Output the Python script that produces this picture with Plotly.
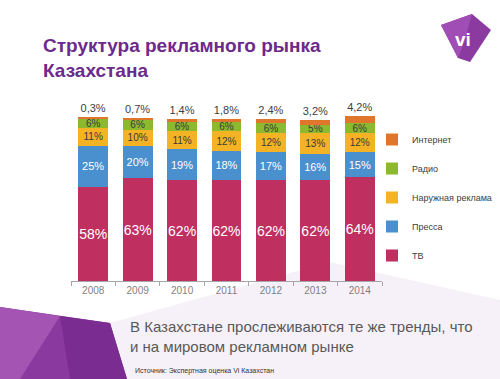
import plotly.graph_objects as go

years = ["2008", "2009", "2010", "2011", "2012", "2013", "2014"]
tv = [58, 63, 62, 62, 62, 62, 64]
press = [25, 20, 19, 18, 17, 16, 15]
outdoor = [11, 10, 11, 12, 12, 13, 12]
radio = [6, 6, 6, 6, 6, 5, 6]
internet = [0.3, 0.7, 1.4, 1.8, 2.4, 3.2, 4.2]

names = ["ТВ", "Пресса", "Наружная реклама", "Радио", "Интернет"]
colors = ["#BF2F60", "#4A90CF", "#F4B324", "#8DB92E", "#E0762B"]

W, H = 500, 379
L, R, T, B = 71, 118, 102, 98
PW, PH = W - L - R, H - T - B


def px(x):
    return (x - L) / PW


def py(y):
    return (H - B - y) / PH


def fmt(v):
    if float(v).is_integer():
        return f"{int(v)}%"
    return f"{v:.1f}".replace(".", ",") + "%"


fig = go.Figure()
series = [tv, press, outdoor, radio, internet]
font_specs = [
    dict(size=14, color="white"),
    dict(size=11, color="white"),
    dict(size=10, color="#3a3a3a"),
    dict(size=10, color="#3a3a3a"),
    dict(size=11, color="#404040"),
]
for i, (nm, vals, col) in enumerate(zip(names, series, colors)):
    fig.add_bar(
        x=years, y=vals, name=nm, marker=dict(color=col, line=dict(width=0)),
        text=[fmt(v) for v in vals],
        textposition="outside" if i == 4 else "inside",
        insidetextanchor="middle",
        textangle=0,
        constraintext="none",
        textfont=dict(family="Liberation Sans", **font_specs[i]),
        cliponaxis=False,
        legendgroup=nm,
        legendrank=5 - i,
        hoverinfo="skip",
    )

shapes = []
# pale background fan
shapes.append(dict(type="path", xref="paper", yref="paper",
                   path=f"M {px(110)},{py(323)} L {px(330)},{py(262)} L {px(500)},{py(300)} L {px(500)},{py(379)} L {px(127)},{py(379)} Z",
                   fillcolor="#F6F1F8", line=dict(width=0), layer="below"))
# purple decoration bottom-left
shapes.append(dict(type="path", xref="paper", yref="paper",
                   path=f"M {px(0)},{py(307)} L {px(110)},{py(323)} L {px(127)},{py(379)} L {px(0)},{py(379)} Z",
                   fillcolor="#8A3A9E", line=dict(width=0), layer="below"))
shapes.append(dict(type="path", xref="paper", yref="paper",
                   path=f"M {px(0)},{py(307)} L {px(60)},{py(316)} L {px(20)},{py(379)} L {px(0)},{py(379)} Z",
                   fillcolor="#A455B4", line=dict(width=0), layer="below"))
shapes.append(dict(type="path", xref="paper", yref="paper",
                   path=f"M {px(60)},{py(316)} L {px(110)},{py(323)} L {px(127)},{py(379)} L {px(70)},{py(379)} Z",
                   fillcolor="#7A2C90", line=dict(width=0), layer="below"))
# logo
shapes.append(dict(type="path", xref="paper", yref="paper",
                   path=f"M {px(441)},{py(25)} L {px(472)},{py(14)} L {px(491)},{py(30)} L {px(470)},{py(62)} L {px(458)},{py(58)} Z",
                   fillcolor="#8B3AA0", line=dict(width=0)))
shapes.append(dict(type="path", xref="paper", yref="paper",
                   path=f"M {px(441)},{py(25)} L {px(472)},{py(14)} L {px(465)},{py(40)} L {px(458)},{py(58)} Z",
                   fillcolor="#A04DB5", line=dict(width=0)))

annotations = [
    dict(text="<b>Структура рекламного рынка<br>Казахстана</b>", x=px(41), y=py(33),
         xanchor="left", yanchor="top", align="left", showarrow=False,
         font=dict(family="Liberation Sans", size=19, color="#6B2A8C")),
    dict(text="<b>vi</b>", x=px(463), y=py(39), xanchor="center", yanchor="middle",
         showarrow=False, font=dict(family="Liberation Sans", size=19, color="white")),
    dict(text="В Казахстане прослеживаются те же тренды, что<br>и на мировом рекламном рынке",
         x=px(128), y=py(316), xanchor="left", yanchor="top", align="left", showarrow=False,
         font=dict(family="Liberation Sans", size=15, color="#595959")),
    dict(text="Источник: Экспертная оценка Vi Казахстан", x=px(133), y=py(371),
         xanchor="left", yanchor="middle", showarrow=False,
         font=dict(family="Liberation Sans", size=7, color="#333333")),
]
for a in annotations:
    a["xref"] = "paper"
    a["yref"] = "paper"

fig.update_layout(
    width=W, height=H,
    margin=dict(l=L, r=R, t=T, b=B, pad=0, autoexpand=False),
    barmode="stack", bargap=0.33,
    paper_bgcolor="white", plot_bgcolor="rgba(0,0,0,0)",
    showlegend=True,
    legend=dict(x=px(372), y=py(125), xanchor="left", yanchor="top",
                traceorder="grouped", tracegroupgap=10,
                font=dict(family="Liberation Sans", size=9, color="#404040"),
                itemwidth=30, bgcolor="rgba(0,0,0,0)"),
    xaxis=dict(showline=True, linecolor="#A6A6A6", linewidth=1, ticks="outside",
               tickson="boundaries", ticklen=4, tickcolor="#A6A6A6",
               tickfont=dict(family="Liberation Sans", size=10, color="#7F7F7F"),
               showgrid=False, fixedrange=True),
    yaxis=dict(range=[0, 110], visible=False, showgrid=False, fixedrange=True),
    shapes=shapes, annotations=annotations,
)

fig.write_html("out.html", config={"displayModeBar": False},
               post_script="document.body.style.margin='0';")
